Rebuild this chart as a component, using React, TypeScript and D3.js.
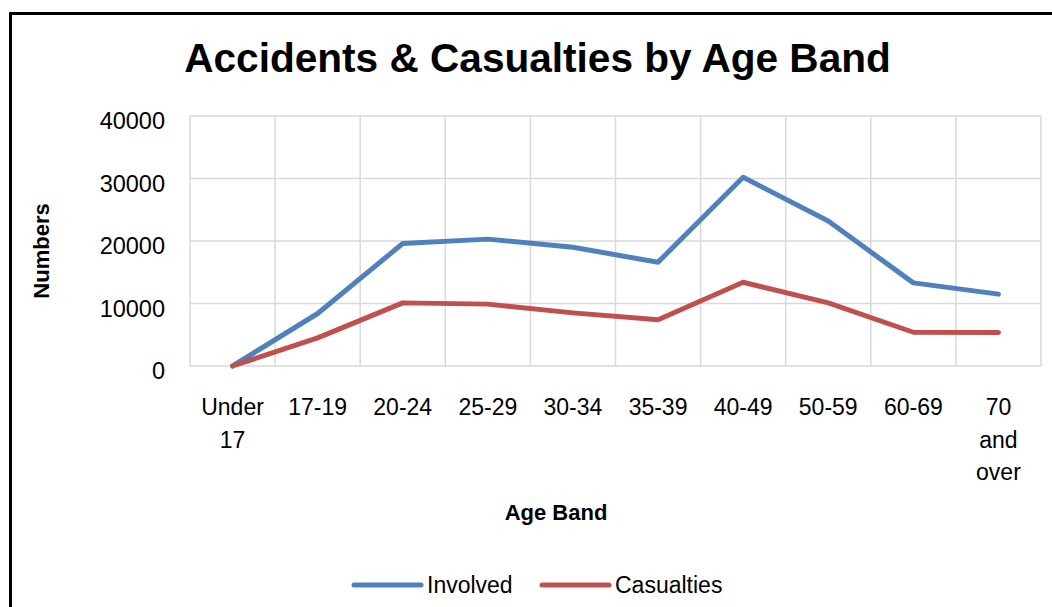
import React from 'react'
import * as d3 from 'd3'

const ageBands = ['Under 17', '17-19', '20-24', '25-29', '30-34', '35-39', '40-49', '50-59', '60-69', '70 and over']
// label lines as they wrap in the original
const bandLines = [['Under', '17'], ['17-19'], ['20-24'], ['25-29'], ['30-34'], ['35-39'], ['40-49'], ['50-59'], ['60-69'], ['70', 'and', 'over']]
const involved = [0, 8400, 19600, 20300, 19000, 16600, 30200, 23200, 13300, 11500]
const casualties = [0, 4500, 10100, 9900, 8500, 7400, 13400, 10100, 5400, 5350]
const yTicks = [0, 10000, 20000, 30000, 40000]

const series = [
  { name: 'Involved', values: involved, color: '#4f81bd' },
  { name: 'Casualties', values: casualties, color: '#c0504d' },
]

const FONT = '"Liberation Sans", Arial, sans-serif'

export default function App() {
  const W = 1052, H = 607
  const plot = { left: 190, right: 1041, top: 116, bottom: 366 }

  const x = d3.scaleBand().domain(ageBands).range([plot.left, plot.right]).padding(0)
  const y = d3.scaleLinear().domain([0, 40000]).range([plot.bottom, plot.top])
  const cx = (b: string) => (x(b) as number) + x.bandwidth() / 2

  const line = d3.line<number>()
    .x((_, i) => cx(ageBands[i]))
    .y(d => y(d))

  const edges = ageBands.map(b => x(b) as number).concat([plot.right])

  return (
    <svg width={W} height={H} style={{ position: 'fixed', left: 0, top: 0, background: '#fff' }} fontFamily={FONT}>
      <rect x={0} y={0} width={W} height={H} fill="#fff" />
      {/* outer chart frame */}
      <rect x={10.5} y={13.5} width={W + 20} height={H + 20} fill="none" stroke="#000" strokeWidth={3} />

      <text x={537.5} y={72} textAnchor="middle" fontSize={40.6} fontWeight="bold" fill="#000">
        Accidents &amp; Casualties by Age Band
      </text>

      {/* grid */}
      {yTicks.map(t => (
        <line key={'h' + t} x1={plot.left} x2={plot.right} y1={y(t)} y2={y(t)} stroke="#d9d9d9" strokeWidth={1.5} />
      ))}
      {edges.map((e, i) => (
        <line key={'v' + i} x1={e} x2={e} y1={plot.top} y2={plot.bottom} stroke="#d9d9d9" strokeWidth={1.5} />
      ))}

      {/* y tick labels */}
      {yTicks.map(t => (
        <text key={'yl' + t} x={165} y={y(t) + 13} textAnchor="end" fontSize={23.5} fill="#000">{t}</text>
      ))}

      {/* x tick labels */}
      {ageBands.map((b, i) => (
        <text key={'xl' + b} textAnchor="middle" fontSize={23} fill="#000">
          {bandLines[i].map((ln, j) => (
            <tspan key={j} x={cx(b)} y={415 + j * 32.5}>{ln}</tspan>
          ))}
        </text>
      ))}

      {/* axis titles */}
      <text x={556} y={520} textAnchor="middle" fontSize={22} fontWeight="bold" fill="#000">Age Band</text>
      <text transform="translate(49,251) rotate(-90)" textAnchor="middle" fontSize={22} fontWeight="bold" fill="#000">Numbers</text>

      {/* series */}
      {series.map(s => (
        <path key={s.name} d={line(s.values) || ''} fill="none" stroke={s.color} strokeWidth={5}
          strokeLinejoin="round" strokeLinecap="round" />
      ))}

      {/* legend */}
      {series.map((s, i) => {
        const lx = i === 0 ? 354 : 542
        return (
          <g key={'lg' + s.name}>
            <line x1={lx} x2={lx + 67} y1={585} y2={585} stroke={s.color} strokeWidth={5} strokeLinecap="round" />
            <text x={lx + 73} y={593} fontSize={23} fill="#000">{s.name}</text>
          </g>
        )
      })}
    </svg>
  )
}
